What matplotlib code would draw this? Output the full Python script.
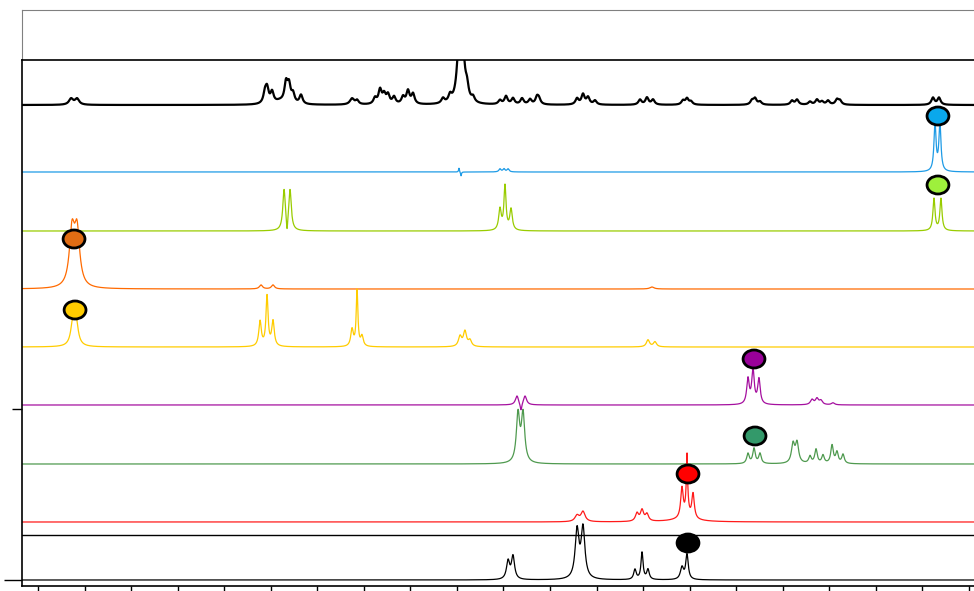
import matplotlib
matplotlib.use("Agg")
import matplotlib.pyplot as plt
import numpy as np
from matplotlib.patches import Ellipse

# stacked 1H NMR spectra, chemical shift in ppm (axis reversed)
# each trace: baseline offset, peak list (ppm, height, half width in ppm)
top_black_offset = 481
top_black_peaks = [(9.645, 6, .02), (9.581, 6, .02),
                   (7.562, 10, .015), (7.540, 14, .015), (7.486, 11, .015), (7.40, 3, .05),
                   (7.336, 19, .015), (7.304, 17, .015), (7.261, 9, .015), (7.175, 9, .015),
                   (6.627, 6, .02), (6.573, 4, .015), (6.380, 6, .015), (6.326, 14, .015),
                   (6.283, 9, .015), (6.241, 9, .015), (6.176, 7, .015), (6.079, 7, .015),
                   (6.026, 13, .015), (5.972, 10, .015),
                   (5.650, 5, .015), (5.574, 7, .015), (5.478, 55, .02), (5.435, 40, .02),
                   (5.392, 12, .015), (5.327, 5, .015),
                   (5.038, 4, .015), (4.973, 8, .015), (4.898, 6, .015), (4.801, 6, .015),
                   (4.715, 5, .015), (4.640, 7, .015), (4.619, 5, .015),
                   (4.210, 6, .015), (4.146, 10, .015), (4.092, 7, .015), (4.017, 4, .015),
                   (3.534, 5, .015), (3.459, 7, .015), (3.394, 5, .015),
                   (3.072, 4, .015), (3.029, 6, .015), (2.986, 3, .015),
                   (2.331, 4, .015), (2.298, 6, .015), (2.245, 3, .015),
                   (1.901, 4, .015), (1.847, 5, .015), (1.708, 3, .015), (1.633, 5, .015),
                   (1.579, 3, .015), (1.514, 4, .015), (1.418, 5, .015), (1.386, 4, .015),
                   (0.387, 7, .015), (0.322, 7, .015)]

blue_offset = 414
blue_peaks = [(0.365, 47, .01), (0.312, 47, .01),
              (5.478, 4, .004), (5.456, -4, .004),
              (5.038, 3, .01), (4.995, 3, .01), (4.951, 3, .01)]

lime_offset = 355
lime_peaks = [(7.357, 40, .012), (7.293, 40, .012), (7.325, -14, .006),
              (5.038, 21, .012), (4.984, 44, .01), (4.919, 21, .012),
              (0.376, 32, .01), (0.301, 32, .01)]

orange_offset = 297
orange_peaks = [(9.635, 54, .025), (9.581, 54, .025),
                (7.605, 4, .015), (7.476, 4, .015), (3.405, 2, .02)]

yellow_offset = 239
yellow_peaks = [(9.624, 23, .02), (9.592, 23, .02),
                (7.615, 25, .012), (7.540, 50, .01), (7.476, 25, .012),
                (6.627, 17, .012), (6.573, 56, .008), (6.520, 10, .012),
                (5.467, 10, .015), (5.414, 15, .015), (5.360, 6, .015),
                (3.448, 7, .015), (3.373, 5, .015)]

magenta_offset = 181
magenta_peaks = [(2.374, 25, .012), (2.320, 34, .012), (2.256, 25, .012),
                 (1.686, 5, .015), (1.633, 6, .015), (1.590, 4, .015), (1.461, 2, .015),
                 (4.855, 9, .015), (4.769, 9, .015), (4.812, -8, .008)]

green_offset = 122
green_peaks = [(4.844, 48, .016), (4.790, 48, .016),
               (2.374, 10, .012), (2.309, 15, .012), (2.245, 10, .012),
               (1.890, 19, .015), (1.847, 20, .015), (1.708, 7, .012), (1.643, 14, .012),
               (1.568, 8, .012), (1.471, 18, .012), (1.418, 11, .012), (1.353, 9, .012)]

red_offset = 64
red_peaks = [(4.210, 6, .02), (4.146, 10, .02),
             (3.566, 8, .015), (3.512, 11, .015), (3.459, 7, .015),
             (3.083, 30, .012), (3.029, 38, .01), (3.029, 25, .003), (2.964, 25, .012),
             (3.05, 3, .12)]

bottom_black_offset = 6
bottom_black_peaks = [(4.951, 18, .015), (4.898, 23, .015),
                      (4.210, 48, .018), (4.146, 50, .018),
                      (3.588, 10, .012), (3.512, 27, .01), (3.448, 10, .012),
                      (3.083, 12, .015), (3.029, 25, .012)]

# line broadening applied to every peak width
lb = 1.35

# marker labels (ppm, y) and colours
marker_ppm = [0.333, 0.333, 9.613, 9.602, 2.309, 2.298, 3.018, 3.018]
marker_y = [470, 401, 347, 276, 227, 150, 112, 43]
marker_colors = ["#0aa8ec", "#9ef03c", "#e06c14", "#ffcc00", "#990099", "#33996a", "#ff0000", "#000000"]

traces = [
    (top_black_offset, top_black_peaks, "#000000", 1.6),
    (blue_offset, blue_peaks, "#1e9be6", 0.9),
    (lime_offset, lime_peaks, "#99cc00", 0.9),
    (orange_offset, orange_peaks, "#ff6a00", 0.9),
    (yellow_offset, yellow_peaks, "#ffcc00", 0.9),
    (magenta_offset, magenta_peaks, "#a5109f", 0.9),
    (green_offset, green_peaks, "#4f9a4f", 0.9),
    (red_offset, red_peaks, "#ff1a1a", 0.9),
    (bottom_black_offset, bottom_black_peaks, "#000000", 0.9),
]

x = np.linspace(10.2, -0.1, 6000)


def spectrum(peaks):
    y = np.zeros_like(x)
    for pos, h, w in peaks:
        w = w * lb
        y += h * w**2 / ((x - pos)**2 + w**2)
    return y


fig = plt.figure(figsize=(9.74, 5.91), dpi=100)

# empty header box
axtop = fig.add_axes([22/974, 1 - 60/591, 952/974, 50/591])
axtop.set_xticks([])
axtop.set_yticks([])
for s in axtop.spines.values():
    s.set_color("#808080")
axtop.spines["right"].set_visible(False)

ax = fig.add_axes([22/974, 5/591, 952/974, 526/591])
for off, peaks, col, lw in traces:
    ax.plot(x, off + spectrum(peaks), color=col, lw=lw)

ax.axhline(51, color="black", lw=1)

for px, py, c in zip(marker_ppm, marker_y, marker_colors):
    ax.add_patch(Ellipse((px, py), 0.235, 18, facecolor=c, edgecolor="black", lw=2, zorder=5))

ax.set_xlim(10.172, -0.054)
ax.set_ylim(0, 526)
ax.set_xticks(np.arange(10.0, -0.01, -0.5))
ax.set_xticklabels([])
ax.set_yticks([6])
ax.set_yticks([177], minor=True)
ax.set_yticklabels([])
ax.tick_params(axis="x", length=5, width=1)
ax.tick_params(axis="y", which="major", length=13, width=1)
ax.tick_params(axis="y", which="minor", length=7, width=1)
ax.spines["right"].set_visible(False)
for s in ["left", "bottom", "top"]:
    ax.spines[s].set_linewidth(1.2)

plt.savefig("out.png", dpi=100)
